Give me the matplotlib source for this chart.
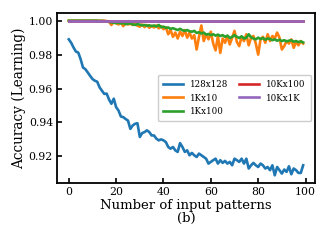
import matplotlib
matplotlib.use("Agg")
import matplotlib.pyplot as plt
import numpy as np

patterns = list(range(100))

acc_128x128 = [
    0.9890, 0.9870, 0.9842, 0.9818, 0.9812, 0.9773, 0.9724, 0.9714, 0.9695, 0.9675,
    0.9656, 0.9646, 0.9640, 0.9607, 0.9587, 0.9568, 0.9570, 0.9535, 0.9510, 0.9540,
    0.9490, 0.9470, 0.9435, 0.9431, 0.9420, 0.9411, 0.9362, 0.9382, 0.9392, 0.9395,
    0.9314, 0.9337, 0.9343, 0.9353, 0.9343, 0.9323, 0.9323, 0.9304, 0.9294, 0.9300,
    0.9294, 0.9284, 0.9255, 0.9245, 0.9255, 0.9235, 0.9226, 0.9278, 0.9255, 0.9226,
    0.9235, 0.9206, 0.9220, 0.9206, 0.9196, 0.9216, 0.9206, 0.9196, 0.9186, 0.9157,
    0.9167, 0.9177, 0.9186, 0.9157, 0.9177, 0.9161, 0.9173, 0.9157, 0.9167, 0.9147,
    0.9186, 0.9177, 0.9167, 0.9186, 0.9157, 0.9186, 0.9128, 0.9147, 0.9161, 0.9147,
    0.9137, 0.9157, 0.9147, 0.9128, 0.9137, 0.9118, 0.9147, 0.9088, 0.9137, 0.9118,
    0.9098, 0.9122, 0.9108, 0.9141, 0.9094, 0.9128, 0.9118, 0.9102, 0.9102, 0.9147,
]

acc_1Kx10 = [
    1.0000, 1.0000, 1.0000, 1.0000, 1.0000, 1.0000, 1.0000, 1.0000, 1.0000, 1.0000,
    1.0000, 1.0000, 1.0000, 1.0000, 1.0000, 1.0000, 0.9998, 0.9994, 0.9975, 0.9992,
    0.9985, 0.9978, 0.9990, 0.9968, 0.9985, 0.9978, 0.9982, 0.9975, 0.9985, 0.9970,
    0.9965, 0.9978, 0.9962, 0.9975, 0.9958, 0.9970, 0.9960, 0.9972, 0.9955, 0.9968,
    0.9950, 0.9962, 0.9920, 0.9945, 0.9905, 0.9930, 0.9895, 0.9935, 0.9910, 0.9945,
    0.9900, 0.9930, 0.9895, 0.9915, 0.9830, 0.9905, 0.9972, 0.9880, 0.9920, 0.9890,
    0.9935, 0.9865, 0.9825, 0.9910, 0.9810, 0.9895, 0.9870, 0.9910, 0.9860, 0.9900,
    0.9940, 0.9875, 0.9850, 0.9905, 0.9880, 0.9920, 0.9855, 0.9900, 0.9910, 0.9865,
    0.9800, 0.9890, 0.9905, 0.9870, 0.9920, 0.9880, 0.9910, 0.9895, 0.9930, 0.9900,
    0.9830, 0.9850, 0.9880, 0.9865, 0.9890, 0.9840, 0.9875, 0.9855, 0.9880, 0.9865,
]

acc_1Kx100 = [
    1.0000, 1.0000, 1.0000, 1.0000, 1.0000, 1.0000, 1.0000, 1.0000, 1.0000, 1.0000,
    1.0000, 1.0000, 1.0000, 0.9998, 0.9999, 0.9997, 0.9996, 0.9993, 0.9990, 0.9988,
    0.9986, 0.9988, 0.9984, 0.9986, 0.9980, 0.9982, 0.9985, 0.9978, 0.9975, 0.9980,
    0.9977, 0.9972, 0.9975, 0.9970, 0.9973, 0.9968, 0.9972, 0.9966, 0.9975, 0.9962,
    0.9965, 0.9958, 0.9960, 0.9952, 0.9956, 0.9950, 0.9945, 0.9952, 0.9944, 0.9940,
    0.9945, 0.9938, 0.9935, 0.9940, 0.9928, 0.9932, 0.9925, 0.9930, 0.9918, 0.9922,
    0.9915, 0.9920, 0.9912, 0.9918, 0.9910, 0.9915, 0.9905, 0.9912, 0.9898, 0.9905,
    0.9915, 0.9905, 0.9898, 0.9908, 0.9895, 0.9900, 0.9920, 0.9902, 0.9895, 0.9890,
    0.9900, 0.9892, 0.9898, 0.9888, 0.9895, 0.9892, 0.9885, 0.9890, 0.9882, 0.9888,
    0.9880, 0.9885, 0.9878, 0.9882, 0.9885, 0.9876, 0.9880, 0.9874, 0.9878, 0.9872,
]

acc_10Kx100 = [1.0] * 100
acc_10Kx1K = [1.0] * 100

labels = ["128x128", "1Kx10", "1Kx100", "10Kx100", "10Kx1K"]
colors = ["#1f77b4", "#ff7f0e", "#2ca02c", "#d62728", "#9467bd"]
xticks = [0, 20, 40, 60, 80, 100]
yticks = [0.92, 0.94, 0.96, 0.98, 1.00]

plt.rcParams["font.family"] = ["DejaVu Serif"]
fig = plt.figure(figsize=(3.28, 2.45), dpi=100)
ax = fig.add_axes([0.174, 0.253, 0.786, 0.694])

series = [acc_128x128, acc_1Kx10, acc_1Kx100, acc_10Kx100, acc_10Kx1K]
for ys, lab, c in zip(series, labels, colors):
    ax.plot(patterns, ys, color=c, lw=1.9, label=lab)

ax.set_xticks(xticks)
ax.set_yticks(yticks)
ax.set_yticklabels([f"{v:.2f}" for v in yticks])
ax.tick_params(direction="in", length=3.5, width=1.2, labelsize=7.8, pad=3)
for s in ax.spines.values():
    s.set_linewidth(1.3)

ax.set_xlabel("Number of input patterns\n(b)", fontsize=9.5, labelpad=1, linespacing=1.0)
ax.set_ylabel("Accuracy (Learning)", fontsize=9.8, labelpad=2)

ax.legend(loc="center right", ncol=2, fontsize=6.2, handlelength=2.3,
          handletextpad=0.8, columnspacing=1.3, labelspacing=0.55,
          borderpad=0.6, framealpha=1, edgecolor="#cccccc")

fig.savefig("out.png", dpi=100)
